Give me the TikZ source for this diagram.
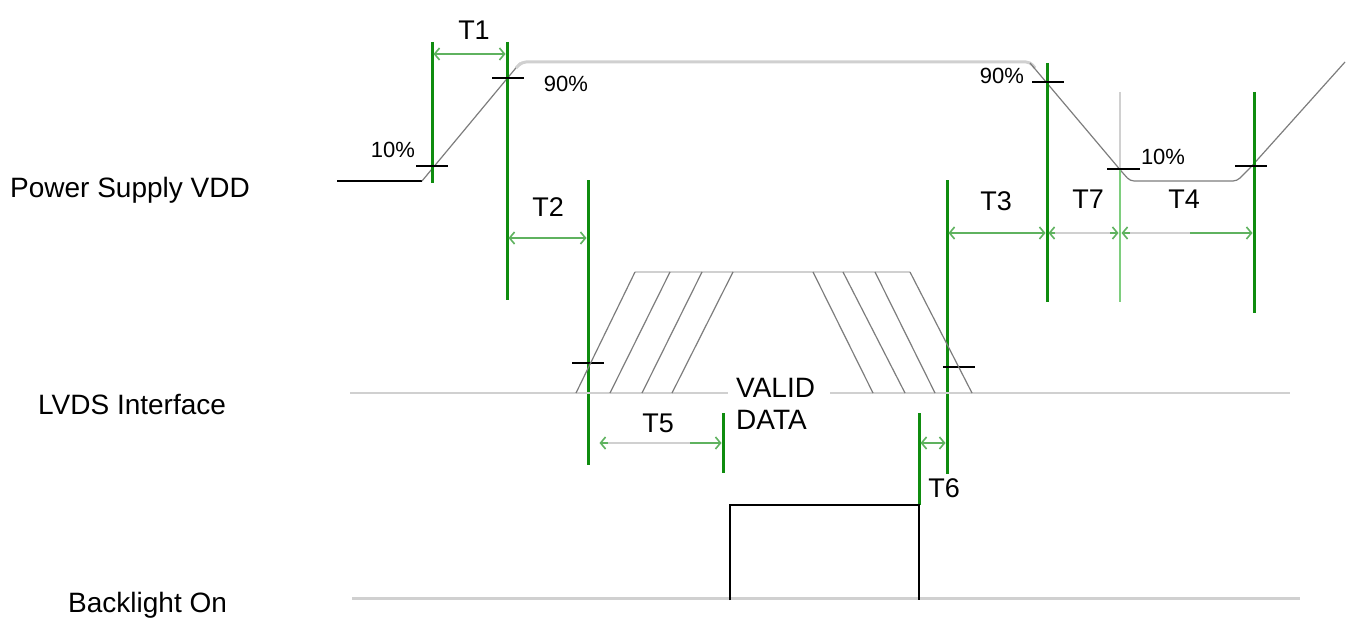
\documentclass[tikz,border=0pt]{standalone}
\usepackage{fontspec}
\setmainfont{Liberation Sans}
\usetikzlibrary{arrows.meta,calc}
\definecolor{gline}{RGB}{15,140,15}
\definecolor{garrow}{RGB}{95,178,95}
\definecolor{lgray}{RGB}{208,208,208}
\definecolor{dgray}{RGB}{125,125,125}
\begin{document}
\begin{tikzpicture}[x=1pt,y=-1pt,
  marker/.style={gline, line width=3pt},
  lmarker/.style={green!45!gray!70, line width=2.2pt},
  tickmark/.style={black, line width=2.2pt},
  wave/.style={dgray, line width=1.2pt},
  flat/.style={lgray, line width=3pt},
  dimline/.style={garrow, line width=1.6pt, {Straight Barb[length=5pt,width=12pt]}-{Straight Barb[length=5pt,width=12pt]}},
  lbl/.style={font=\fontsize{28}{33}\selectfont, inner sep=0pt},
  tlbl/.style={font=\fontsize{27}{32}\selectfont, inner sep=0pt},
  pct/.style={font=\fontsize{22}{26}\selectfont, inner sep=0pt}]
\useasboundingbox (0,0) rectangle (1348,623);

% signal names
\node[lbl, anchor=west] (vdd) at (10,190) {Power Supply VDD};
\node[lbl, anchor=west] (lvds) at (38,405) {LVDS Interface};
\node[lbl, anchor=west] (bl) at (68,605) {Backlight On};

% ---------- Power supply waveform ----------
\draw[black, line width=2.8pt] (337,181) -- (422,181);
\draw[wave] (422,181) -- (520,63);
\draw[flat, rounded corners=4pt] (516,68) -- (522,62) -- (1030,62) -- (1035,68);
\draw[wave] (1030,63) -- (1122,172);
\draw[wave, rounded corners=4pt] (1122,172) -- (1130,181) -- (1237,181) -- (1250,168);
\draw[wave] (1250,168) -- (1345,62);

% ---------- green time markers ----------
\draw[marker] (432,42) -- (432,183);
\draw[marker] (507,42) -- (507,300);
\draw[marker] (588,180) -- (588,465);
\draw[marker] (947,180) -- (947,474);
\draw[marker] (1047,63) -- (1047,302);
\draw[lgray, line width=2.2pt] (1120,92) -- (1120,168);
\draw[lmarker] (1120,168) -- (1120,302);
\draw[marker] (1254,92) -- (1254,313);
\draw[marker] (723,413) -- (723,473);
\draw[marker] (919,413) -- (919,505);

% ---------- tick marks ----------
\draw[tickmark] (416,166) -- (448,166);
\draw[tickmark] (492,78) -- (524,78);
\draw[tickmark] (1032,82) -- (1064,82);
\draw[tickmark] (1107,169) -- (1140,169);
\draw[tickmark] (1235,166) -- (1267,166);
\draw[tickmark] (572,363) -- (604,363);
\draw[tickmark] (943,367) -- (975,367);

% percent labels
\node[pct] (p10a) at (393,150) {10\%};
\node[pct] (p90a) at (566,84) {90\%};
\node[pct] (p90b) at (1002,76) {90\%};
\node[pct] (p10b) at (1163,157) {10\%};

% ---------- dimension arrows ----------
\coordinate (a1) at (432,54);   \coordinate (b1) at (507,54);
\coordinate (a2) at (507,238);  \coordinate (b2) at (588,238);
\coordinate (a3) at (947,233);  \coordinate (b3) at (1047,233);
\coordinate (a7) at (1047,233); \coordinate (b7) at (1120,233);
\coordinate (a4) at (1120,233); \coordinate (b4) at (1254,233);
\coordinate (a5) at (598,443);  \coordinate (b5) at (723,443);
\coordinate (a6) at (919,443);  \coordinate (b6) at (947,443);
\draw[dimline, shorten <=1.5pt, shorten >=1.5pt] (a1) -- (b1);
\draw[dimline, shorten <=1.5pt, shorten >=1.5pt] (a2) -- (b2);
\draw[dimline, shorten <=1.5pt, shorten >=1.5pt] (a3) -- (b3);
\draw[dimline, shorten <=1.5pt, shorten >=1.5pt] (a7) -- (b7);
\draw[lgray, line width=2pt] ($(a7)+(8,0)$) -- ($(b7)+(-10,0)$);
\draw[dimline, shorten <=1.5pt, shorten >=1.5pt] (a4) -- (b4);
\draw[lgray, line width=2pt] (1130,233) -- (1190,233);
\draw[dimline, shorten <=1.5pt, shorten >=1.5pt] (a5) -- (b5);
\draw[lgray, line width=2pt] (608,443) -- (690,443);
\draw[dimline, shorten <=1.5pt, shorten >=1.5pt] (a6) -- (b6);

\node[tlbl] (t1) at (474,30) {T1};
\node[tlbl] (t2) at (548,207) {T2};
\node[tlbl] (t3) at (996,201) {T3};
\node[tlbl] (t7) at (1088,199) {T7};
\node[tlbl] (t4) at (1184,199) {T4};
\node[tlbl] (t5) at (658,423) {T5};
\node[tlbl] (t6) at (944,488) {T6};

% ---------- LVDS ----------
\draw[lgray, line width=2.5pt] (350,393) -- (728,393);
\draw[lgray, line width=2.5pt] (830,393) -- (1290,393);
\draw[lgray, line width=2pt] (635,272) -- (910,272);
\foreach \xb/\xt in {576/635, 610/670, 642/702, 672/733,
                     873/813, 905/843, 935/875, 972/910}
  \draw[wave] (\xb,393) -- (\xt,272);
\node[lbl, anchor=west] (valid) at (736,388) {VALID};
\node[lbl, anchor=west] (data) at (736,420) {DATA};

% ---------- Backlight ----------
\draw[lgray, line width=3pt] (352,598) -- (1300,598);
\draw[black, line width=2.8pt] (730,600) -- (730,505) -- (919,505) -- (919,600);
\end{tikzpicture}
\end{document}
